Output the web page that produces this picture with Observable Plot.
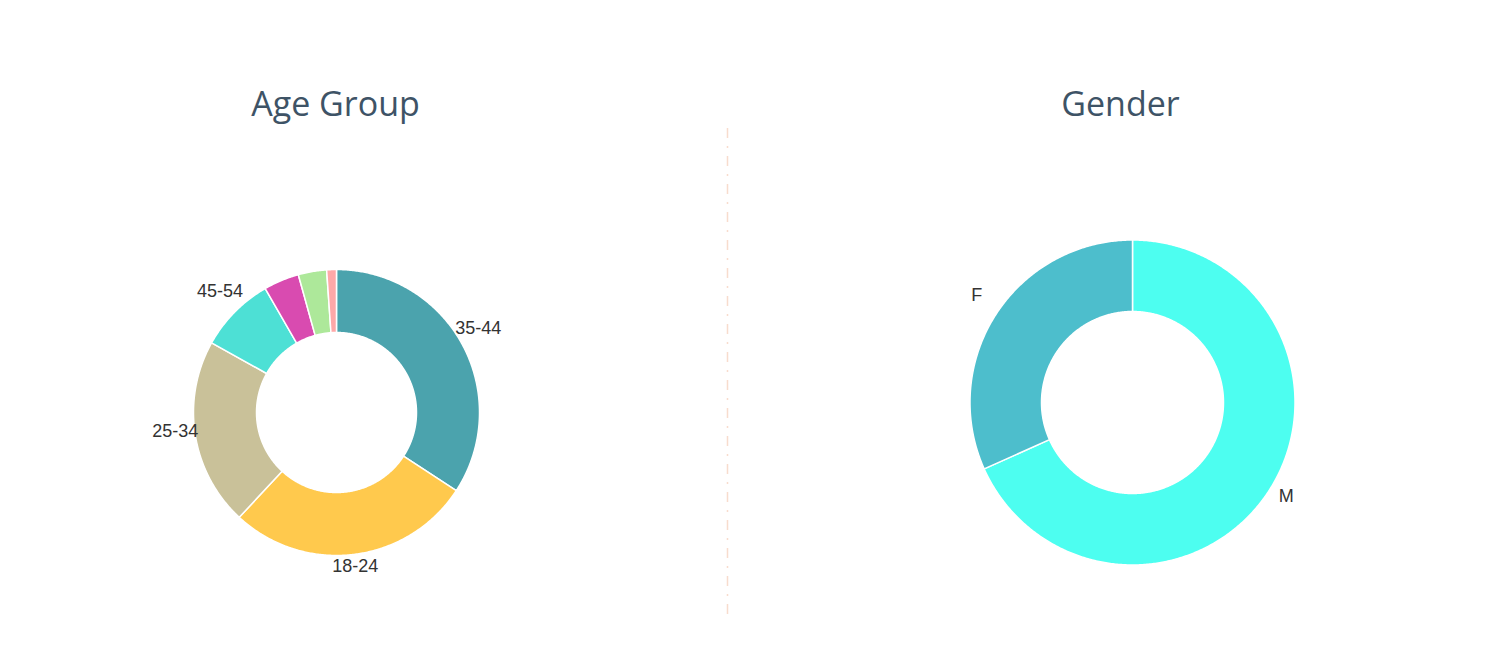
<!DOCTYPE html>
<html>
<head>
<meta charset="utf-8">
<script src="https://cdn.jsdelivr.net/npm/d3@7"></script>
<script src="https://cdn.jsdelivr.net/npm/@observablehq/plot@0.6"></script>
<style>
  html, body { margin: 0; padding: 0; background: #fff; }
  #chart svg { display: block; }
</style>
</head>
<body>
<div id="chart"></div>
<script>
// ---- Data ----
const ageGroups = ["35-44", "18-24", "25-34", "45-54", "55-64", "13-17", "65+"];
const ageValues = [34.2, 27.7, 21.2, 8.6, 4.0, 3.2, 1.1];
const ageColors = ["#4ba3ad", "#ffc94d", "#c9c199", "#4de0d5", "#d94bb0", "#ade89a", "#ffa8a8"];

const genders = ["M", "F"];
const genderValues = [68.3, 31.7];
const genderColors = ["#4dfef0", "#4dbecc"];

const titles = ["Age Group", "Gender"];

// ---- Layout ----
const W = 1508, H = 668;
const donuts = [
  {title: titles[0], cats: ageGroups, vals: ageValues, colors: ageColors, cx: 336, cy: 412, ro: 143, ri: 80, tx: 335},
  {title: titles[1], cats: genders, vals: genderValues, colors: genderColors, cx: 1132, cy: 402, ro: 162.5, ri: 91, tx: 1120}
];

const pie = d3.pie().sort(null).value(d => d.v);
const polys = [];
const labels = [];
donuts.forEach((dn, di) => {
  const arcs = pie(dn.cats.map((c, i) => ({c, v: dn.vals[i], color: dn.colors[i]})));
  const total = d3.sum(dn.vals);
  arcs.forEach(a => {
    const key = di + ":" + a.data.c;
    const n = Math.max(2, Math.ceil((a.endAngle - a.startAngle) / (Math.PI / 360)));
    for (let k = 0; k <= n; k++) {
      const t = a.startAngle + (a.endAngle - a.startAngle) * k / n;
      polys.push({key, color: a.data.color, x: dn.cx + dn.ro * Math.sin(t), y: dn.cy - dn.ro * Math.cos(t)});
    }
    for (let k = n; k >= 0; k--) {
      const t = a.startAngle + (a.endAngle - a.startAngle) * k / n;
      polys.push({key, color: a.data.color, x: dn.cx + dn.ri * Math.sin(t), y: dn.cy - dn.ri * Math.cos(t)});
    }
    if (a.data.v / total >= 0.05) {
      const m = (a.startAngle + a.endAngle) / 2;
      const r = dn.ro * 1.135;
      labels.push({text: a.data.c, x: dn.cx + r * Math.sin(m) - 1, y: dn.cy - r * Math.cos(m) - 7});
    }
  });
});
const titleRows = donuts.map(d => ({text: d.title, x: d.tx, y: 115}));

const chart = Plot.plot({
  width: W,
  height: H,
  margin: 0,
  x: {domain: [0, W], range: [0, W], axis: null},
  y: {domain: [0, H], range: [0, H], axis: null},
  color: {type: "identity"},
  style: {background: "#fff"},
  marks: [
    Plot.ruleX([727], {y1: 128, y2: 615, stroke: "#f8dccd", strokeWidth: 1.5, strokeDasharray: "10,8,2,8"}),
    Plot.line(polys, {x: "x", y: "y", z: "key", fill: "color", stroke: "#fff", strokeWidth: 1.5, curve: "linear-closed"}),
    Plot.text(labels, {x: "x", y: "y", text: "text", fill: "#333", fontSize: 18, fontFamily: "Liberation Sans, Arial, sans-serif", lineAnchor: "middle", textAnchor: "middle"}),
    Plot.text(titleRows, {x: "x", y: "y", text: "text", fill: "#3e5366", fontSize: 34, fontFamily: "Open Sans, sans-serif", lineAnchor: "bottom", textAnchor: "middle"})
  ]
});
document.getElementById("chart").appendChild(chart);
</script>
</body>
</html>
